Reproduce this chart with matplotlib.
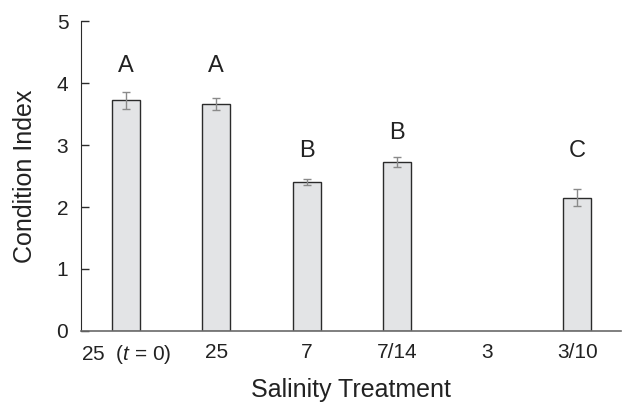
import numpy as np
import matplotlib
matplotlib.use("Agg")
import matplotlib.pyplot as plt

plt.rcParams['font.family'] = ['Liberation Sans', 'DejaVu Sans']
plt.rcParams['mathtext.fontset'] = 'custom'
plt.rcParams['mathtext.it'] = 'Liberation Sans:italic'
plt.rcParams['mathtext.rm'] = 'Liberation Sans'

# data
treatments = ["25  ($t$ = 0)", "25", "7", "7/14", "3", "3/10"]
condition_index = [3.72, 3.66, 2.40, 2.73, np.nan, 2.15]
errors = [0.13, 0.10, 0.05, 0.08, np.nan, 0.14]
letters = ["A", "A", "B", "B", "", "C"]
letter_y = [4.27, 4.27, 2.91, 3.19, np.nan, 2.91]

fig = plt.figure(figsize=(6.22, 4.07), dpi=100)
ax = fig.add_axes([0.130, 0.187, 0.868, 0.761])

x = np.arange(len(treatments))
ax.bar(x, condition_index, width=0.31, color="#e3e4e6", edgecolor="#2b2b2b",
       linewidth=1.0, zorder=2)
ax.errorbar(x, condition_index, yerr=errors, fmt="none", ecolor="#8a8a8a",
            elinewidth=1.0, capsize=3, capthick=1.0, zorder=3)

for xi, lab, ly in zip(x, letters, letter_y):
    if lab:
        ax.text(xi, ly, lab, ha="center", va="center", fontsize=17, color="#222222")

ax.set_xlim(-0.5, 5.48)
ax.set_ylim(0, 5)
ax.set_yticks([0, 1, 2, 3, 4, 5])
ax.set_xticks(x)
ax.set_xticklabels(treatments)

ax.spines["top"].set_visible(False)
ax.spines["right"].set_visible(False)
ax.spines["left"].set_color("#2b2b2b")
ax.spines["bottom"].set_color("#6a6a6a")
ax.spines["bottom"].set_linewidth(1.2)

ax.tick_params(axis="y", direction="in", length=6, width=1, colors="#2b2b2b",
               labelsize=15, pad=9, labelcolor="#222222")
ax.tick_params(axis="x", length=0, labelsize=15, pad=9, labelcolor="#222222")

ax.set_xlabel("Salinity Treatment", fontsize=18, color="#222222", labelpad=8)
ax.set_ylabel("Condition Index", fontsize=18, color="#222222", labelpad=14)

fig.savefig("out.png", dpi=100)
